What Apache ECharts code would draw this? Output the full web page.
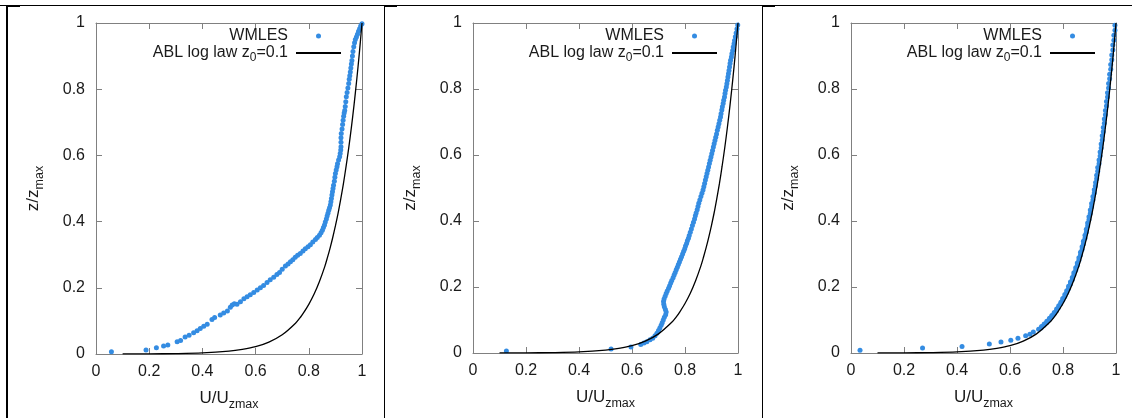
<!DOCTYPE html>
<html><head><meta charset="utf-8">
<script src="https://cdn.jsdelivr.net/npm/echarts@6/dist/echarts.min.js"></script>
<style>html,body{margin:0;padding:0;background:#fff}#c{width:1132px;height:418px}</style>
</head><body><div id="c"></div><script>
// ---- data ----
const tickValues = [0, 0.2, 0.4, 0.6, 0.8, 1];
const legendNames = ['WMLES', 'ABL log law z0=0.1'];

// ABL log law curve (same in all three panels)
const logLawU = [0.10,0.20,0.30,0.40,0.50,0.55,0.60,0.65,0.70,0.75,0.77,0.78,0.80,0.82,0.84,0.86,0.87,0.88,0.89,0.90,0.91,0.92,0.93,0.94,0.95,0.96,0.97,0.98,0.99,1.00];
const logLawZ = [0.0002,0.0005,0.0013,0.0033,0.0087,0.014,0.022,0.036,0.058,0.093,0.1125,0.124,0.150,0.181,0.219,0.264,0.291,0.320,0.352,0.387,0.425,0.468,0.514,0.566,0.622,0.684,0.752,0.827,0.909,1.0];

// Panel 1 WMLES
const wmles1U = [0.058,0.188,0.227,0.254,0.270,0.305,0.318,0.335,0.350,0.367,0.380,0.392,0.405,0.418,0.436,0.446,0.467,0.480,0.494,0.505,0.512,0.520,0.530,0.543,0.556,0.568,0.580,0.593,0.606,0.618,0.630,0.643,0.655,0.668,0.680,0.690,0.700,0.712,0.722,0.731,0.740,0.749,0.758,0.768,0.778,0.787,0.797,
 0.806,0.815,0.825,0.832,0.840,0.846,0.851,0.855,0.859,0.862,0.866,0.869,0.872,0.875,0.878,0.881,0.883,0.885,0.887,0.889,0.891,0.893,0.896,0.898,0.900,0.903,0.906,0.908,0.912,0.916,0.918,0.920,0.921,0.921,0.921,0.922,0.925,0.927,0.929,0.931,0.933,0.935,0.937,0.939,0.941,0.944,0.947,0.950,0.952,0.954,0.956,0.958,0.960,0.962,0.964,0.966,0.969,0.972,0.975,0.979,0.983,0.987,0.991,0.995,1.000];
const wmles1Z = [0.007,0.012,0.019,0.024,0.027,0.037,0.041,0.051,0.057,0.064,0.070,0.077,0.084,0.090,0.104,0.110,0.118,0.124,0.130,0.141,0.148,0.152,0.150,0.158,0.167,0.173,0.179,0.186,0.193,0.200,0.207,0.216,0.224,0.232,0.240,0.246,0.256,0.266,0.272,0.279,0.285,0.292,0.298,0.304,0.311,0.318,0.324,
 0.330,0.338,0.346,0.352,0.359,0.366,0.374,0.382,0.390,0.399,0.408,0.417,0.425,0.434,0.442,0.450,0.460,0.470,0.480,0.490,0.500,0.510,0.522,0.534,0.545,0.556,0.566,0.575,0.586,0.596,0.606,0.616,0.626,0.640,0.653,0.666,0.680,0.693,0.706,0.718,0.728,0.736,0.748,0.762,0.777,0.790,0.804,0.817,0.830,0.841,0.852,0.864,0.876,0.887,0.900,0.914,0.928,0.940,0.950,0.958,0.966,0.975,0.983,0.991,0.998];

// Panel 2 WMLES
const wmles2U = [0.126,0.521,0.596,0.633,0.645,0.656,0.668,0.678,0.687,0.694,0.700,0.705,0.710,0.714,0.718,0.722,0.727,0.729,0.726,0.722,0.720,0.719,0.721,0.725,0.729,0.733,0.738,0.742,0.746,0.750,0.755,0.759,0.763,0.767,0.771,0.775,0.779,0.783,0.787,0.791,0.795,0.799,0.802,0.806,0.809,0.813,0.816,0.820,0.824,0.828,0.832,0.836,0.839,0.842,0.846,0.849,0.852,0.856,0.860,0.864,0.868,0.871,0.874,0.877,0.880,0.883,0.886,0.889,0.892,0.895,0.898,0.901,0.904,0.907,0.910,0.913,0.916,0.919,0.922,0.925,0.928,0.931,0.934,0.936,0.939,0.941,0.944,0.946,0.949,0.951,0.953,0.956,0.958,0.960,0.962,0.964,0.966,0.968,0.970,0.972,0.975,0.977,0.980,0.982,0.985,0.987,0.990,0.993,0.996,0.999];
const wmles2Z = [0.006,0.012,0.018,0.026,0.030,0.034,0.040,0.045,0.052,0.060,0.068,0.076,0.084,0.092,0.100,0.108,0.116,0.124,0.132,0.140,0.148,0.156,0.164,0.172,0.180,0.188,0.196,0.204,0.212,0.220,0.228,0.236,0.244,0.252,0.260,0.268,0.276,0.284,0.292,0.300,0.308,0.316,0.324,0.332,0.340,0.348,0.356,0.366,0.376,0.386,0.396,0.406,0.416,0.424,0.434,0.444,0.454,0.464,0.474,0.484,0.494,0.504,0.514,0.524,0.534,0.544,0.554,0.564,0.574,0.584,0.594,0.604,0.614,0.624,0.634,0.644,0.654,0.664,0.675,0.685,0.695,0.705,0.715,0.725,0.736,0.746,0.756,0.766,0.776,0.786,0.796,0.806,0.816,0.826,0.836,0.846,0.856,0.867,0.877,0.887,0.897,0.907,0.917,0.927,0.937,0.947,0.958,0.970,0.982,0.994];

// Panel 3 WMLES
const wmles3U = [0.034,0.270,0.419,0.522,0.566,0.603,0.630,0.659,0.675,0.688,
 0.708,0.719,0.729,0.739,0.749,0.758,0.767,0.776,0.784,0.792,0.799,0.807,0.814,0.821,0.828,0.835,0.841,0.848,0.854,0.860,0.866,0.872,0.877,0.883,0.888,0.893,0.898,0.903,0.908,0.913,0.918,0.923,0.927,0.931,0.936,0.940,0.944,0.948,0.952,0.956,0.960,0.964,0.968,0.972,0.976,0.980,0.984,0.988,0.992,0.996,
 0.717,0.728,0.738,0.748,0.757,0.766,0.775,0.783,0.791,0.799,0.807,0.814,0.821,0.828,0.835,0.841,0.848,0.854,0.860,0.866,0.872,0.877,0.883,0.888,0.893,0.898,0.903,0.908,0.913,0.918,0.922,0.927,0.931,0.936,0.940,0.944,0.948,0.952,0.956,0.960,0.964,0.968,0.972,0.976,0.980,0.984,0.988,0.992,0.996];
const wmles3Z = [0.008,0.015,0.020,0.027,0.033,0.039,0.045,0.052,0.057,0.064,
 0.072,0.080,0.088,0.096,0.105,0.114,0.123,0.133,0.143,0.154,0.165,0.177,0.189,0.202,0.215,0.229,0.243,0.258,0.273,0.289,0.305,0.322,0.339,0.357,0.375,0.394,0.413,0.433,0.453,0.474,0.495,0.517,0.539,0.562,0.585,0.609,0.633,0.658,0.683,0.709,0.735,0.762,0.789,0.817,0.845,0.874,0.903,0.933,0.963,0.993,
 0.076,0.084,0.092,0.1005,0.1095,0.1185,0.128,0.138,0.1485,0.1595,0.171,0.183,0.1955,0.2085,0.222,0.236,0.2505,0.2655,0.281,0.297,0.3135,0.3305,0.348,0.366,0.3845,0.4035,0.423,0.443,0.4635,0.4845,0.506,0.528,0.5505,0.5735,0.597,0.621,0.6455,0.6705,0.696,0.722,0.7485,0.7755,0.803,0.831,0.8595,0.8885,0.918,0.948,0.978];

const panelsU = [wmles1U, wmles2U, wmles3U];
const panelsZ = [wmles1Z, wmles2Z, wmles3Z];

// ---- style / layout ----
const FONT = '"Liberation Sans", Arial, Helvetica, sans-serif';
const BLUE = '#348ce2';
const FRAME = '#808080';
const TXT = '#1a1a1a';
const gridsLayout = [
  {left: 96, right: 770, top: 23, bottom: 64},
  {left: 473, right: 394, top: 23, bottom: 65},
  {left: 851, right: 16, top: 23, bottom: 65}
];
const legendRight = [790, 414, 36];

const zip = (a, b) => a.map((v, i) => [v, b[i]]);
const logLawData = zip(logLawU, logLawZ);

const grid = [], xAxis = [], yAxis = [], series = [], legend = [];
const axisCommon = {
  type: 'value', min: tickValues[0], max: tickValues[tickValues.length - 1],
  interval: tickValues[1] - tickValues[0],
  splitLine: {show: false},
  axisLine: {show: true, onZero: false, lineStyle: {color: FRAME, width: 1}},
  axisTick: {show: true, inside: true, length: 6, lineStyle: {color: FRAME, width: 1}}
};
const nameRich = {
  m: {fontSize: 17, fontFamily: FONT, color: TXT, lineHeight: 18},
  s: {fontSize: 12.5, fontFamily: FONT, color: TXT, lineHeight: 5, padding: [13, 0, 0, 0]}
};
for (let i = 0; i < 3; i++) {
  grid.push(Object.assign({containLabel: false}, gridsLayout[i]));
  xAxis.push(Object.assign({}, axisCommon, {
    gridIndex: i, position: 'bottom',
    axisLabel: {color: TXT, fontSize: 16, fontFamily: FONT, margin: 10},
    name: '{m|U/U}{s|zmax}', nameLocation: 'middle', nameGap: 28,
    nameTextStyle: {rich: nameRich}
  }));
  xAxis.push(Object.assign({}, axisCommon, {
    gridIndex: i, position: 'top', axisLabel: {show: false}
  }));
  yAxis.push(Object.assign({}, axisCommon, {
    gridIndex: i, position: 'left',
    axisLabel: {color: TXT, fontSize: 16, fontFamily: FONT, margin: 11},
    name: '{m|z/z}{s|max}', nameLocation: 'middle', nameGap: 54,
    nameTextStyle: {rich: nameRich}
  }));
  yAxis.push(Object.assign({}, axisCommon, {
    gridIndex: i, position: 'right', axisLabel: {show: false}
  }));
  series.push({
    name: legendNames[0], type: 'scatter', xAxisIndex: 2 * i, yAxisIndex: 2 * i,
    data: zip(panelsU[i], panelsZ[i]), symbolSize: 5,
    itemStyle: {color: BLUE, opacity: 1}, silent: true
  });
  series.push({
    name: legendNames[1], type: 'line', xAxisIndex: 2 * i, yAxisIndex: 2 * i,
    data: logLawData, showSymbol: false, symbol: 'none', smooth: 0.3,
    lineStyle: {color: '#000', width: 1.3}, itemStyle: {color: '#000'}, silent: true
  });
  legend.push({
    orient: 'vertical', right: legendRight[i], top: 28, align: 'right', padding: 0,
    itemWidth: 45, itemHeight: 5, itemGap: -2, selectedMode: false,
    data: [{name: legendNames[0]}, {name: legendNames[1], itemStyle: {opacity: 0}}],
    formatter: n => n === 'WMLES' ? '{m|WMLES}' : '{m|ABL log law z}{s|0}{m|=0.1}',
    textStyle: {
      padding: [0, 3, 0, 0],
      rich: {
        m: {fontSize: 16, fontFamily: FONT, color: TXT, lineHeight: 17},
        s: {fontSize: 12, fontFamily: FONT, color: TXT, lineHeight: 5, padding: [10, 0, 0, 0]}
      }
    }
  });
}

const graphic = [
  {type: 'rect', shape: {x: 0, y: 5, width: 1132, height: 1}, style: {fill: '#000'}, silent: true},
  {type: 'rect', shape: {x: 6, y: 5, width: 2, height: 413}, style: {fill: '#000'}, silent: true},
  {type: 'rect', shape: {x: 6, y: 5, width: 14, height: 2}, style: {fill: '#000'}, silent: true},
  {type: 'rect', shape: {x: 384, y: 5, width: 1, height: 413}, style: {fill: '#000'}, silent: true},
  {type: 'rect', shape: {x: 384, y: 5, width: 13, height: 2}, style: {fill: '#000'}, silent: true},
  {type: 'rect', shape: {x: 762, y: 5, width: 1, height: 413}, style: {fill: '#000'}, silent: true},
  {type: 'rect', shape: {x: 762, y: 5, width: 13, height: 2}, style: {fill: '#000'}, silent: true}
];

const chart = echarts.init(document.getElementById('c'), null, {renderer: 'canvas'});
chart.setOption({
  backgroundColor: '#fff', animation: false,
  textStyle: {fontFamily: FONT},
  grid, xAxis, yAxis, series, legend, graphic
});
</script></body></html>
